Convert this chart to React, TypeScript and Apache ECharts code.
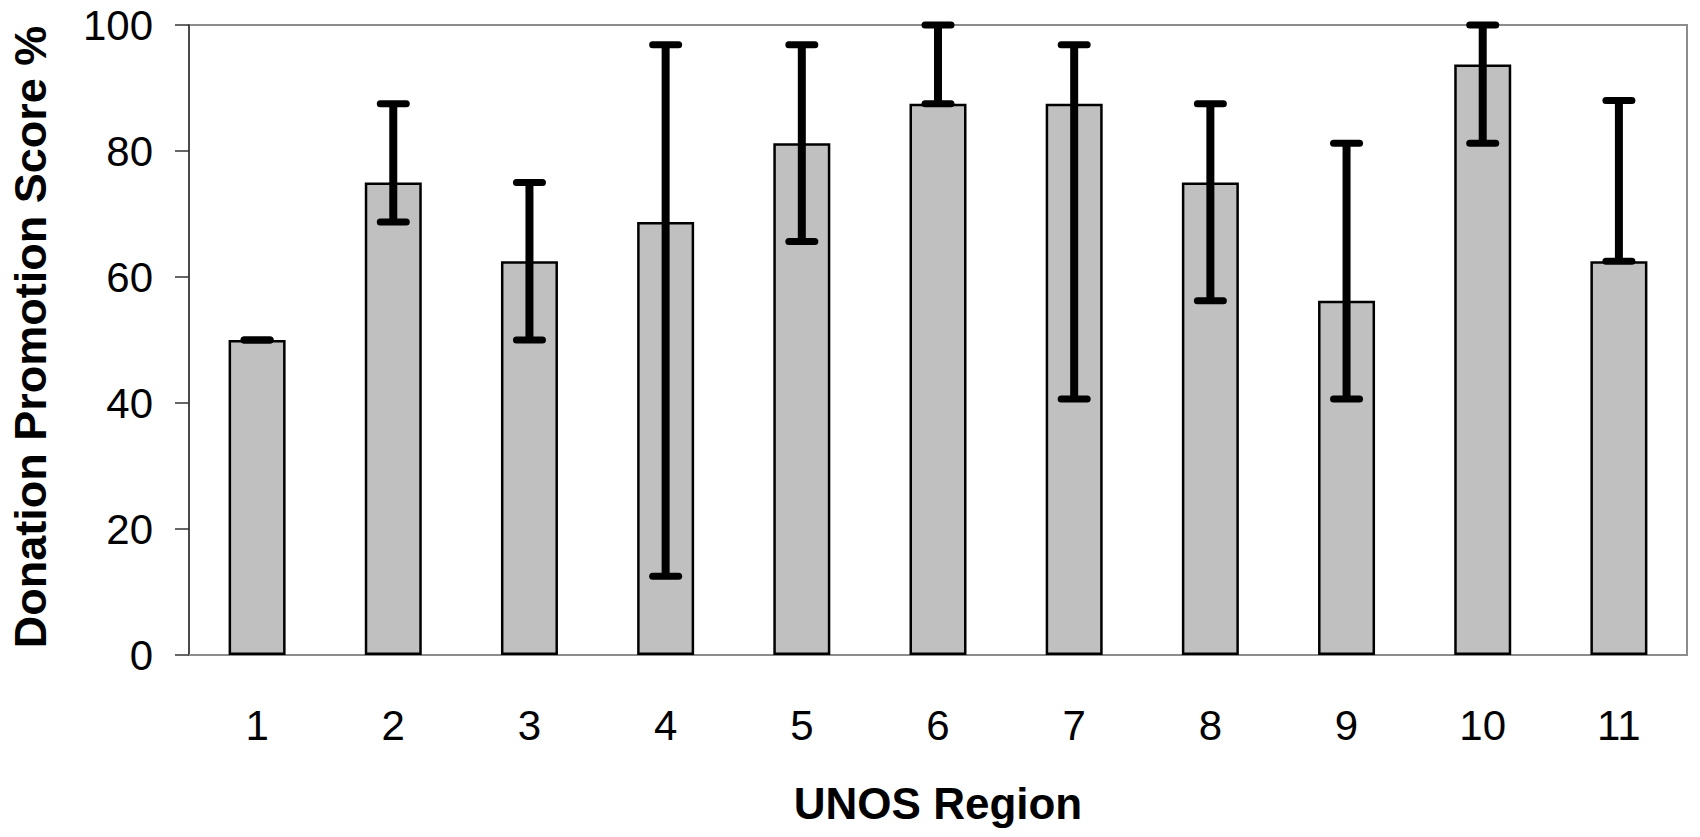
import React, { useEffect, useRef } from "react";
import * as echarts from "echarts";

const regions = ["1", "2", "3", "4", "5", "6", "7", "8", "9", "10", "11"];
const scores = [50, 75, 62.5, 68.75, 81.25, 87.5, 87.5, 75, 56.25, 93.75, 62.5];
const errLow = [50, 68.75, 50, 12.5, 65.625, 87.5, 40.625, 56.25, 40.625, 81.25, 62.5];
const errHigh = [50, 87.5, 75, 96.875, 96.875, 100, 96.875, 87.5, 81.25, 100, 88];
const yTicks = { min: 0, max: 100, interval: 20 };

const FONT = "'Liberation Sans', Arial, Helvetica, sans-serif";

export default function App() {
  const ref = useRef<HTMLDivElement>(null);

  useEffect(() => {
    if (!ref.current) return;
    const chart = echarts.init(ref.current, undefined, { renderer: "svg" });
    const errData = regions.map((_, i) => [i, errLow[i], errHigh[i]]);

    chart.setOption({
      animation: false,
      backgroundColor: "#ffffff",
      grid: {
        left: 189,
        right: 13,
        top: 25,
        bottom: 182,
        show: true,
        borderColor: "#8c8c8c",
        borderWidth: 2,
        backgroundColor: "transparent",
      },
      xAxis: {
        type: "category",
        data: regions,
        axisLine: { show: true, lineStyle: { color: "#8c8c8c", width: 2 } },
        axisTick: { show: false },
        axisLabel: {
          color: "#000",
          fontFamily: FONT,
          fontSize: 42,
          margin: 49,
        },
        splitLine: { show: false },
      },
      yAxis: {
        type: "value",
        min: yTicks.min,
        max: yTicks.max,
        interval: yTicks.interval,
        axisLine: { show: true, lineStyle: { color: "#333", width: 1.5 } },
        axisTick: { show: true, length: 14, lineStyle: { color: "#333", width: 1.5 } },
        axisLabel: {
          color: "#000",
          fontFamily: FONT,
          fontSize: 42,
          margin: 36,
        },
        splitLine: { show: false },
      },
      graphic: [
        {
          type: "text",
          x: 30,
          y: 337,
          rotation: Math.PI / 2,
          style: {
            text: "Donation Promotion Score %",
            font: `bold 45px ${FONT}`,
            fill: "#000",
            align: "center",
            verticalAlign: "middle",
          },
        },
        {
          type: "text",
          x: 938,
          y: 803,
          style: {
            text: "UNOS Region",
            font: `bold 44px ${FONT}`,
            fill: "#000",
            align: "center",
            verticalAlign: "middle",
          },
        },
      ],
      series: [
        {
          type: "bar",
          data: scores,
          barWidth: 57,
          itemStyle: { color: "#c0c0c0", borderColor: "#000", borderWidth: 2.5 },
          z: 2,
        },
        {
          type: "custom",
          data: errData,
          z: 5,
          renderItem: (params: any, api: any) => {
            const idx = api.value(0);
            const lo = api.coord([idx, api.value(1)]);
            const hi = api.coord([idx, api.value(2)]);
            const x = lo[0];
            const half = 13;
            const style = { stroke: "#000", lineWidth: 7, lineCap: "round" };
            return {
              type: "group",
              children: [
                {
                  type: "line",
                  shape: { x1: x, y1: hi[1], x2: x, y2: lo[1] },
                  style: { stroke: "#000", lineWidth: 8 },
                },
                {
                  type: "line",
                  shape: { x1: x - half, y1: hi[1], x2: x + half, y2: hi[1] },
                  style,
                },
                {
                  type: "line",
                  shape: { x1: x - half, y1: lo[1], x2: x + half, y2: lo[1] },
                  style,
                },
              ],
            };
          },
        },
      ],
    });

    return () => chart.dispose();
  }, []);

  return (
    <div
      ref={ref}
      style={{ position: "absolute", left: 0, top: 0, width: 1700, height: 837, background: "#fff" }}
    />
  );
}
